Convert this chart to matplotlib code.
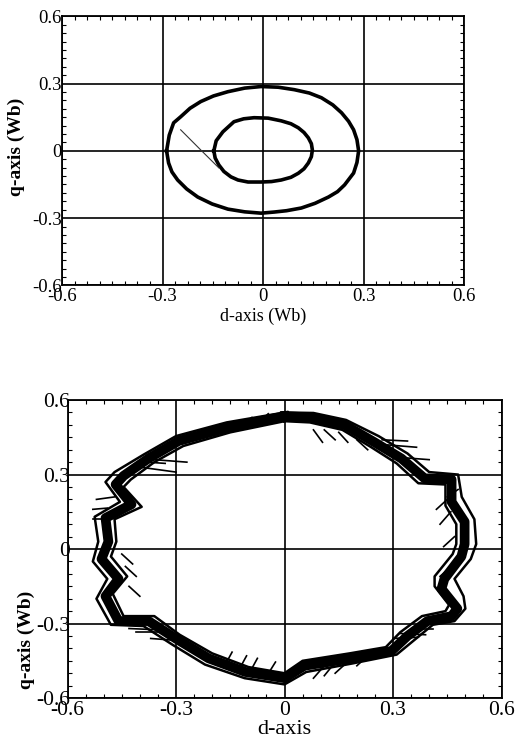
import matplotlib.pyplot as plt
from matplotlib.ticker import MultipleLocator

plt.rcParams['font.family'] = ['Liberation Serif', 'DejaVu Serif']

# ---- top plot: flux trajectories (Wb) ----
outer_d = [-0.288, -0.280, -0.267, -0.246, -0.218, -0.186, -0.148, -0.105, -0.055, -0.006, 0.045,
           0.093, 0.138, 0.174, 0.208, 0.234, 0.255, 0.270, 0.280, 0.285,
           0.280, 0.270, 0.243, 0.222, 0.195, 0.155, 0.114, 0.070, 0.033, -0.006, -0.055, -0.105,
           -0.152, -0.195, -0.228, -0.255, -0.272, -0.282, -0.288]
outer_q = [0.0, 0.070, 0.125, 0.152, 0.190, 0.220, 0.245, 0.264, 0.280, 0.287, 0.284,
           0.273, 0.258, 0.237, 0.205, 0.170, 0.132, 0.094, 0.050, 0.0,
           -0.052, -0.099, -0.152, -0.182, -0.206, -0.234, -0.255, -0.267, -0.273, -0.278, -0.272,
           -0.260, -0.237, -0.206, -0.170, -0.130, -0.094, -0.054, 0.0]

inner_d = [-0.147, -0.140, -0.120, -0.087, -0.058, -0.027, 0.015, 0.054, 0.083, 0.105, 0.122,
           0.135, 0.144, 0.147, 0.144, 0.135, 0.122, 0.105, 0.083, 0.054, 0.025, -0.006, -0.045,
           -0.075, -0.096, -0.117, -0.132, -0.143, -0.147]
inner_q = [0.0, 0.045, 0.085, 0.130, 0.143, 0.148, 0.146, 0.134, 0.121, 0.103, 0.082,
           0.058, 0.032, 0.004, -0.026, -0.054, -0.080, -0.100, -0.118, -0.130, -0.137, -0.139,
           -0.139, -0.130, -0.116, -0.092, -0.063, -0.032, 0.0]

trans_d = [-0.246, -0.190, -0.132]
trans_q = [0.094, 0.010, -0.076]

# ---- bottom plot: jagged trajectory band ----
mid_d = [0.0, 0.075, 0.166, 0.249, 0.323, 0.387, 0.462, 0.462, 0.498, 0.498, 0.489, 0.442, 0.434,
         0.478, 0.462, 0.395, 0.340, 0.296, 0.185, 0.055, 0.0, -0.108, -0.210, -0.301, -0.376,
         -0.459, -0.495, -0.459, -0.506, -0.487, -0.495, -0.423, -0.467, -0.445, -0.376, -0.293,
         -0.155, 0.0]
mid_q = [0.535, 0.530, 0.500, 0.430, 0.365, 0.285, 0.280, 0.190, 0.110, 0.020, -0.030, -0.120,
         -0.160, -0.240, -0.270, -0.290, -0.350, -0.410, -0.440, -0.470, -0.520, -0.495, -0.440,
         -0.360, -0.290, -0.290, -0.190, -0.120, -0.040, 0.030, 0.125, 0.180, 0.260, 0.295,
         0.365, 0.435, 0.490, 0.535]

out_d = [0.0, 0.08, 0.17, 0.26, 0.34, 0.40, 0.48, 0.49, 0.525, 0.53, 0.515, 0.47, 0.495, 0.50,
         0.47, 0.41, 0.36, 0.31, 0.19, 0.06, 0.0, -0.11, -0.22, -0.31, -0.39, -0.48, -0.52, -0.49,
         -0.53, -0.515, -0.525, -0.455, -0.495, -0.47, -0.39, -0.30, -0.16, 0.0]
out_q = [0.55, 0.548, 0.52, 0.455, 0.385, 0.31, 0.30, 0.21, 0.12, 0.02, -0.04, -0.12, -0.19, -0.24,
         -0.29, -0.305, -0.365, -0.425, -0.46, -0.495, -0.545, -0.52, -0.465, -0.385, -0.31, -0.305,
         -0.20, -0.12, -0.05, 0.03, 0.13, 0.19, 0.27, 0.31, 0.38, 0.455, 0.51, 0.55]

in_d = [0.0, 0.07, 0.16, 0.24, 0.31, 0.37, 0.445, 0.445, 0.475, 0.475, 0.465, 0.415, 0.415, 0.455,
        0.445, 0.38, 0.32, 0.28, 0.18, 0.05, 0.0, -0.10, -0.20, -0.29, -0.36, -0.445, -0.475,
        -0.435, -0.48, -0.465, -0.47, -0.395, -0.445, -0.425, -0.36, -0.28, -0.15, 0.0]
in_q = [0.515, 0.51, 0.48, 0.41, 0.345, 0.265, 0.26, 0.175, 0.10, 0.02, -0.02, -0.11, -0.15, -0.225,
        -0.25, -0.27, -0.335, -0.395, -0.42, -0.45, -0.50, -0.475, -0.42, -0.345, -0.27, -0.27,
        -0.18, -0.11, -0.03, 0.03, 0.12, 0.17, 0.25, 0.28, 0.35, 0.415, 0.47, 0.515]

# spikes: (d0, q0, d1, q1)
spikes = [(-0.20, 0.46, -0.17, 0.50), (-0.12, 0.49, -0.09, 0.53), (-0.07, 0.51, -0.045, 0.545),
          (-0.25, 0.44, -0.22, 0.48), (-0.40, 0.33, -0.30, 0.31), (-0.36, 0.36, -0.27, 0.35),
          (-0.38, 0.35, -0.33, 0.345), (-0.53, 0.12, -0.48, 0.12), (-0.52, 0.20, -0.47, 0.21),
          (-0.53, 0.16, -0.49, 0.165), (-0.44, -0.07, -0.41, -0.11), (-0.43, -0.15, -0.40, -0.19),
          (-0.45, -0.02, -0.42, -0.06), (-0.41, -0.335, -0.32, -0.335), (-0.37, -0.36, -0.28, -0.37),
          (-0.43, -0.32, -0.35, -0.325), (-0.16, -0.455, -0.145, -0.415), (-0.09, -0.48, -0.075, -0.44),
          (-0.04, -0.49, -0.025, -0.455), (-0.12, -0.47, -0.105, -0.43), (0.08, 0.48, 0.105, 0.43),
          (0.11, 0.48, 0.14, 0.44), (0.20, 0.44, 0.23, 0.40), (0.15, 0.47, 0.175, 0.43),
          (0.28, 0.42, 0.365, 0.41), (0.31, 0.37, 0.40, 0.36), (0.27, 0.44, 0.34, 0.435),
          (0.45, 0.20, 0.42, 0.16), (0.46, 0.15, 0.43, 0.10), (0.47, 0.05, 0.44, 0.01),
          (0.46, -0.07, 0.43, -0.11), (0.48, 0.24, 0.45, 0.21), (0.35, -0.32, 0.41, -0.32),
          (0.30, -0.36, 0.37, -0.355), (0.32, -0.34, 0.39, -0.345), (0.08, -0.52, 0.11, -0.47),
          (0.14, -0.50, 0.17, -0.46), (0.20, -0.47, 0.23, -0.43), (0.11, -0.51, 0.135, -0.465)]

ticks = [-0.6, -0.3, 0, 0.3, 0.6]
tick_labels = ['-0.6', '-0.3', '0', '0.3', '0.6']

fig = plt.figure(figsize=(5.21, 7.45), dpi=100)


def style(ax, minor, fs, ypad):
    ax.set_xlim(-0.6, 0.6)
    ax.set_ylim(-0.6, 0.6)
    ax.set_xticks(ticks)
    ax.set_yticks(ticks)
    ax.set_xticklabels(tick_labels)
    ax.set_yticklabels(tick_labels)
    ax.xaxis.set_minor_locator(MultipleLocator(minor))
    ax.yaxis.set_minor_locator(MultipleLocator(minor))
    ax.tick_params(which='both', direction='in', top=True, right=True, labelsize=fs)
    ax.tick_params(which='major', length=0)
    ax.tick_params(axis='y', which='major', pad=ypad)
    ax.tick_params(axis='x', which='major', pad=2)
    ax.tick_params(which='minor', length=3, width=0.8)
    ax.grid(True, color='black', linewidth=1.2)
    ax.set_axisbelow(True)
    for s in ax.spines.values():
        s.set_linewidth(1.3)


# top
ax1 = fig.add_axes([0.119, 0.617, 0.772, 0.361])
style(ax1, 0.0375, 13.5, 0)
ax1.plot(outer_d, outer_q, color='black', linewidth=2.6)
ax1.plot(inner_d, inner_q, color='black', linewidth=2.6)
ax1.plot(trans_d, trans_q, color='#333333', linewidth=0.8)
ax1.set_xlabel('d-axis (Wb)', fontsize=13, labelpad=2)
ax1.set_ylabel('q-axis (Wb)', fontsize=14, fontweight='bold')
ax1.yaxis.set_label_coords(-0.092, 0.513)

# bottom
ax2 = fig.add_axes([0.1296, 0.063, 0.833, 0.400])
style(ax2, 0.05, 15.5, -2)
ax2.plot(mid_d, mid_q, color='black', linewidth=7)
ax2.plot(out_d, out_q, color='black', linewidth=1.8)
ax2.plot(in_d, in_q, color='black', linewidth=1.8)
for d0, q0, d1, q1 in spikes:
    ax2.plot([d0, d1], [q0, q1], color='black', linewidth=1.2)
ax2.set_xlabel('d-axis', fontsize=16, labelpad=0)
ax2.set_ylabel('q-axis (Wb)', fontsize=14, fontweight='bold')
ax2.yaxis.set_label_coords(-0.075, 0.195)

fig.savefig('out.png', dpi=100)
